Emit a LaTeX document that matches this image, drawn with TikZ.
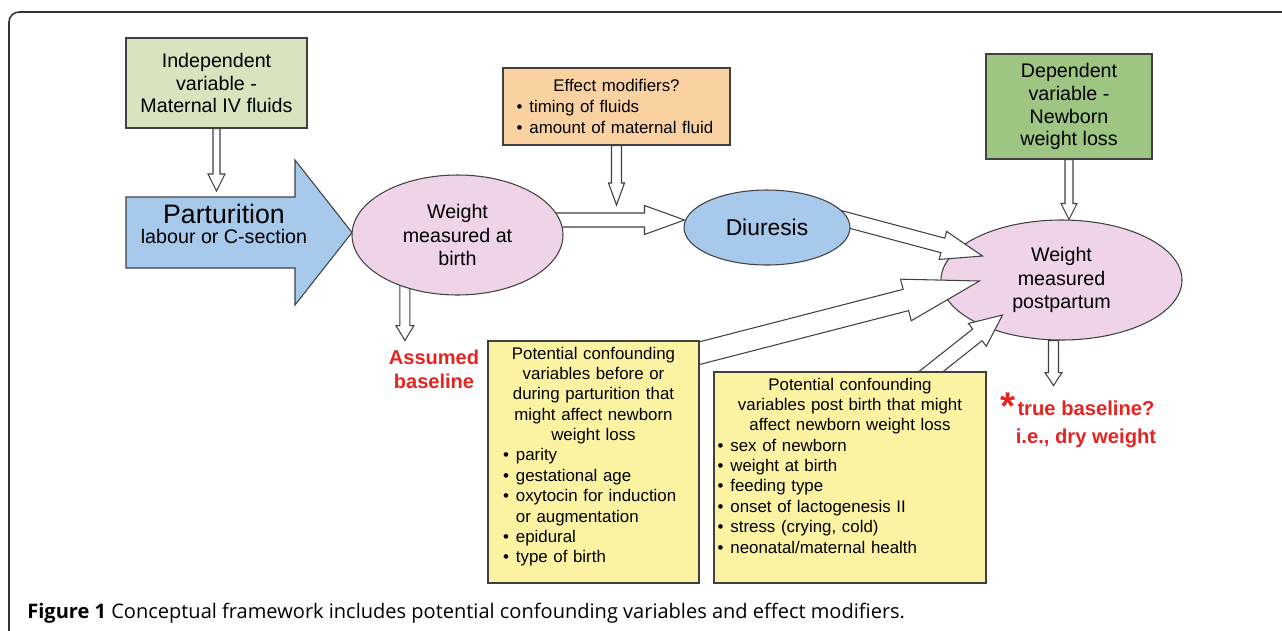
\documentclass[tikz,border=0pt]{standalone}
\usepackage{fontspec}
\setmainfont{Liberation Sans}
\newfontfamily\capfont{Open Sans}
\usetikzlibrary{calc,shapes.geometric}
\newcommand{\unitsize}{0.02cm}
\newcommand{\itembullet}{\textbullet\hspace{4pt}}

\definecolor{indepgreen}{HTML}{D7E4BD}
\definecolor{depgreen}{HTML}{9EC582}
\definecolor{partblue}{HTML}{A7C9EB}
\definecolor{modorange}{HTML}{FAD2A2}
\definecolor{weightpink}{HTML}{EFD3E9}
\definecolor{confyellow}{HTML}{FCF3A2}
\definecolor{basered}{HTML}{E52421}

\pgfdeclarelayer{bottom}
\pgfdeclarelayer{middle}
\pgfsetlayers{bottom,middle,main}

% hollow block arrow: from, to, half shaft, half head, head length
\newcommand{\fatarrow}[5]{%
\path (#1) coordinate (fas) (#2) coordinate (fae);
\path ($(fae)!#5*\unitsize!(fas)$) coordinate (fah);
\draw[fatline] ($(fas)!#3*\unitsize!90:(fae)$) -- ($(fah)!#3*\unitsize!90:(fae)$)
  -- ($(fah)!#4*\unitsize!90:(fae)$) -- (fae) -- ($(fah)!#4*\unitsize!-90:(fae)$)
  -- ($(fah)!#3*\unitsize!-90:(fae)$) -- ($(fas)!#3*\unitsize!-90:(fae)$) -- cycle;
}

\begin{document}
\begin{tikzpicture}[x=\unitsize,y=-\unitsize]
\useasboundingbox (0,0) rectangle (1282,630);
\tikzstyle{box}=[draw=black!75, line width=0.6pt, inner sep=0pt, align=center,
			font=\fontsize{11.2}{13}\selectfont]
\tikzstyle{weight}=[ellipse, draw=black!75, fill=weightpink, line width=0.6pt,
			inner sep=0pt, align=center, font=\fontsize{11.2}{13.4}\selectfont]
\tikzstyle{smalltext}=[inner sep=0pt, align=left, font=\fontsize{9.6}{11.6}\selectfont]
\tikzstyle{redtext}=[inner sep=0pt, align=center, text=basered]
\tikzstyle{fatline}=[draw=black!75, fill=white, line width=0.6pt]

\begin{pgfonlayer}{bottom}
\draw[black!80, line width=0.9pt, rounded corners=5.7pt] (9,12) rectangle (1320,660);
\node[weight, minimum width=241*\unitsize, minimum height=120*\unitsize] (e2) at (1061.5,280) {Weight\\measured\\postpartum};
\end{pgfonlayer}

\node[box, fill=indepgreen, minimum width=181*\unitsize, minimum height=90*\unitsize] (indep) at (216.5,83) {Independent\\variable -\\Maternal IV fluids};

\draw[draw=black!75, fill=partblue, line width=0.6pt] (126,197) -- (295,197) -- (295,160) -- (352,232.5)
  -- (295,305) -- (295,268) -- (126,268) -- cycle;
\coordinate (parttop) at (216.5,191);
\node[inner sep=0pt, align=center, font=\fontsize{11.2}{13}\selectfont] (part) at (224,224)
  {{\fontsize{15.2}{17}\selectfont Parturition}\\[-2pt]labour or C-section};

\node[weight, minimum width=211*\unitsize, minimum height=120*\unitsize] (e1) at (457.5,235) {Weight\\measured at\\birth};

\node[box, fill=modorange, minimum width=227*\unitsize, minimum height=77*\unitsize, text width=200*\unitsize,
  align=left, font=\fontsize{9.6}{11.9}\selectfont] (mod) at (616.5,106.5)
  {{\centering Effect modifiers?\par}\itembullet timing of fluids\\\itembullet amount of maternal fluid};
\coordinate (modtip) at (616.5,205);

\node[weight, fill=partblue, minimum width=166*\unitsize, minimum height=75*\unitsize,
  font=\fontsize{13}{15}\selectfont] (D) at (767,227.5) {Diuresis};

\node[box, fill=depgreen, minimum width=166*\unitsize, minimum height=105*\unitsize] (dep) at (1069,106.5)
  {Dependent\\variable -\\Newborn\\weight loss};

\node[redtext, font=\bfseries\fontsize{11.4}{13.6}\selectfont] (assumed) at (434,369) {Assumed\\baseline};

\node[box, fill=confyellow, minimum width=211*\unitsize, minimum height=242*\unitsize] (y1) at (593.5,462) {};
\node[smalltext, text width=181*\unitsize, anchor=north] (y1text) at ($(y1.north)+(0,6)$)
  {{\centering Potential confounding\\variables before or\\during parturition that\\might affect newborn\\weight loss\par}
  \itembullet parity\\
  \itembullet gestational age\\
  \itembullet oxytocin for induction\\
  \phantom{\itembullet}or augmentation\\
  \itembullet epidural\\
  \itembullet type of birth};

\node[box, fill=confyellow, minimum width=272*\unitsize, minimum height=211*\unitsize] (y2) at (850,477.5) {};
\node[smalltext, text width=265*\unitsize, anchor=north] (y2text) at ($(y2.north)+(0,6)$)
  {{\centering Potential confounding\\variables post birth that might\\affect newborn weight loss\par}
  \itembullet sex of newborn\\
  \itembullet weight at birth\\
  \itembullet feeding type\\
  \itembullet onset of lactogenesis II\\
  \itembullet stress (crying, cold)\\
  \itembullet neonatal/maternal health};

\node[redtext, anchor=base, font=\bfseries\fontsize{22}{22}\selectfont] (star) at (1008,419) {*};
\node[redtext, font=\bfseries\fontsize{11.5}{15.9}\selectfont] (truebase) at (1086,424) {true baseline?\\i.e., dry weight};

\node[anchor=base west, inner sep=0pt, font=\capfont\fontsize{11.4}{13}\selectfont] (caption) at (27,618)
  {\textbf{Figure 1} Conceptual framework includes potential confounding variables and effect modifiers.};

\begin{pgfonlayer}{middle}
\fatarrow{indep.south}{parttop}{3.5}{8.5}{17}
\fatarrow{mod.south}{modtip}{5}{8}{22}
\fatarrow{dep.south}{dep.south |- e2.north}{4}{8}{16}
\fatarrow{$(e1.225)+(0,-10)$}{$(e1.225)+(0,53)$}{5}{9}{15}
\fatarrow{$(e1.east)+(-20,-15)$}{$(D.west)+(1,-7.5)$}{7}{14.5}{40}
\fatarrow{$(D.east)+(-16,-11)$}{$(e2.west)+(42,-24)$}{7.5}{14.5}{41}
\fatarrow{$(y1.north east)+(-9,15)$}{$(e2.west)+(39,1)$}{11}{21.5}{76}
\fatarrow{$(y2.north east)+(-63,6)$}{$(e2.west)+(62,35)$}{7.5}{14.5}{32}
\fatarrow{$(e2.south)+(-8,0)$}{$(e2.south)+(-8,45)$}{5}{8.5}{13}
\end{pgfonlayer}
\end{tikzpicture}
\end{document}
